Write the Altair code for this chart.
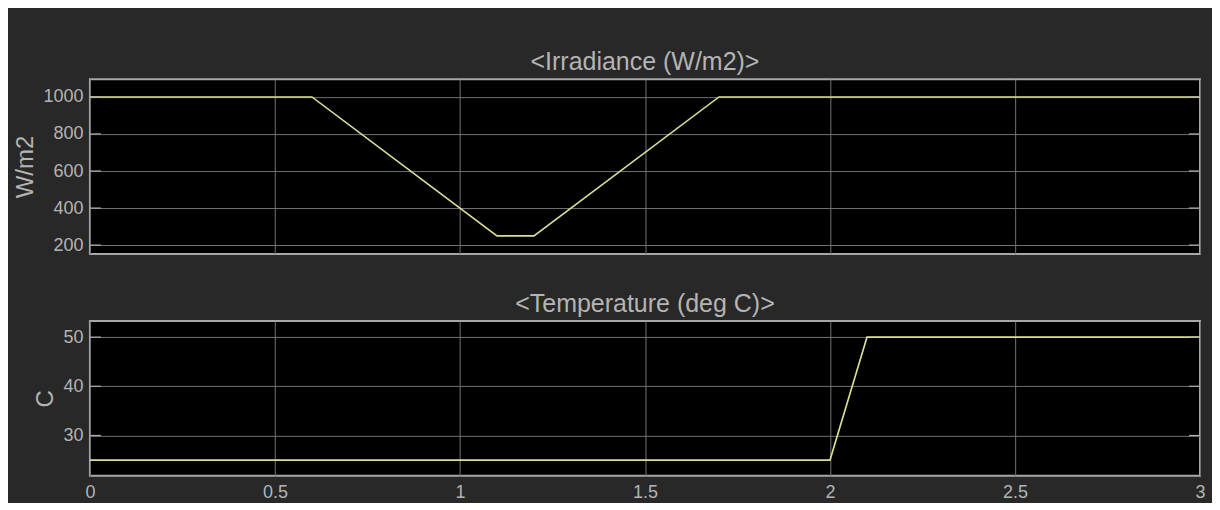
import altair as alt
import pandas as pd

# ---- data ----
irr_time = [0.0, 0.6, 1.1, 1.2, 1.7, 3.0]
irr_value = [1000, 1000, 250, 250, 1000, 1000]
temp_time = [0.0, 2.0, 2.1, 3.0]
temp_value = [25, 25, 50, 50]

x_ticks = [0, 0.5, 1, 1.5, 2, 2.5, 3]
irr_ticks = [200, 400, 600, 800, 1000]
temp_ticks = [30, 40, 50]

irr_domain = [152, 1096]
temp_domain = [21.8, 53.3]

W = 1111
H1 = 175
H2 = 155

FONT = "Liberation Sans"
TXT = "#b4b4b4"
GRID = "#727272"
TICK = "#b0b0b0"
LINE = "#dede98"

irr_df = pd.DataFrame({"t": irr_time, "v": irr_value})
temp_df = pd.DataFrame({"t": temp_time, "v": temp_value})
irr_tick_df = pd.DataFrame({"v": irr_ticks})
temp_tick_df = pd.DataFrame({"v": temp_ticks})

xscale = alt.Scale(domain=[0, 3], nice=False, zero=False)


def panel(df, tick_df, domain, yticks, ytitle, title, h, show_x):
    yscale = alt.Scale(domain=domain, nice=False, zero=False)
    if show_x:
        xaxis = alt.Axis(values=x_ticks, format="~g", grid=True, ticks=False,
                         domain=False, labels=True, title=None, labelPadding=8,
                         labelFlush=False)
    else:
        xaxis = alt.Axis(values=x_ticks, grid=True, ticks=False, domain=False,
                         labels=False, title=None)
    yaxis = alt.Axis(values=yticks, format="d", grid=True, ticks=False,
                     domain=False, labelPadding=7, title=ytitle, titlePadding=5)
    line = alt.Chart(df).mark_line(color=LINE, strokeWidth=1.6).encode(
        x=alt.X("t:Q", scale=xscale, axis=xaxis),
        y=alt.Y("v:Q", scale=yscale, axis=yaxis),
    )
    lt = alt.Chart(tick_df).mark_rule(color=TICK, strokeWidth=1.2).encode(
        y=alt.Y("v:Q", scale=yscale, axis=yaxis),
        x=alt.value(0), x2=alt.value(11),
    )
    rt = alt.Chart(tick_df).mark_rule(color=TICK, strokeWidth=1.2).encode(
        y=alt.Y("v:Q", scale=yscale, axis=yaxis),
        x=alt.value(W - 11), x2=alt.value(W),
    )
    return alt.layer(line, lt, rt).properties(
        width=W, height=h,
        title=alt.TitleParams(title, fontSize=25, font=FONT, color=TXT,
                              fontWeight="normal", anchor="middle",
                              baseline="bottom", offset=-21),
    )


top = panel(irr_df, irr_tick_df, irr_domain, irr_ticks, "W/m2",
            "<Irradiance (W/m2)>", H1, False)
bottom = panel(temp_df, temp_tick_df, temp_domain, temp_ticks, "C",
               "<Temperature (deg C)>", H2, True)

chart = alt.vconcat(top, bottom, spacing=35).properties(
    background="#282828",
    padding={"left": 4, "top": 41, "right": 5, "bottom": 0},
).configure_view(
    fill="#000000", stroke="#a8a8a8", strokeWidth=2,
).configure_axis(
    labelFont=FONT, labelFontSize=18, labelColor=TXT,
    titleFont=FONT, titleFontSize=24, titleColor=TXT, titleFontWeight="normal",
    gridColor=GRID, gridWidth=1, gridOpacity=1,
)

chart.save("out.html", embed_options={"renderer": "svg", "actions": False})
